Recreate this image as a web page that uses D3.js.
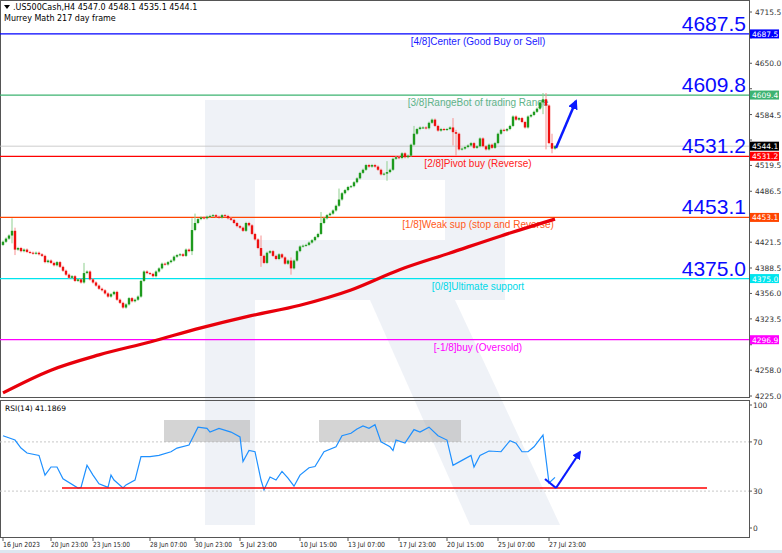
<!DOCTYPE html>
<html><head><meta charset="utf-8">
<script src="https://cdn.jsdelivr.net/npm/d3@7"></script>
<style>body{margin:0;background:#fff}svg{display:block;font-family:Tahoma,"DejaVu Sans",sans-serif}</style>
</head><body><svg id="c" width="782" height="553"></svg>
<script>
// ---- data ----
const closes=[4422,4426,4430,4436,4412,4414,4410,4412,4409,4408,4407,4408,4406,4404,4396,4398,4395,4392,4396,4390,4385,4380,4376,4378,4372,4374,4370,4382,4384,4374,4370,4366,4362,4360,4356,4352,4355,4358,4348,4344,4338,4342,4350,4346,4348,4352,4372,4384,4382,4381,4378,4384,4388,4394,4393,4396,4398,4403,4405,4406,4404,4412,4410,4437,4446,4451,4453,4452,4454,4455,4456,4454,4453,4456,4455,4452,4450,4446,4442,4440,4436,4446,4443,4432,4425,4414,4404,4395,4408,4410,4404,4400,4406,4402,4394,4398,4388,4398,4410,4416,4417,4418,4421,4424,4428,4432,4446,4452,4456,4458,4462,4468,4476,4484,4488,4492,4493,4498,4503,4510,4514,4520,4518,4520,4518,4514,4508,4509,4511,4514,4528,4530,4529,4535,4530,4532,4546,4560,4566,4568,4568,4567,4574,4578,4570,4564,4566,4565,4566,4568,4562,4560,4540,4541,4543,4545,4548,4542,4544,4554,4544,4540,4546,4542,4548,4560,4565,4564,4566,4570,4582,4578,4580,4575,4568,4582,4584,4588,4592,4600,4604,4596,4548,4541,4544.1];
const firstOpen=4418;
const spikeIdx=[3,4,27,63,64,86,96,106,112,128,137,150,151,180,181,183];
const spikeHigh=[4452,4440,4395,4452,4458,4430,4402,4460,4490,4525,4570,4580,4565,4612,4612,4560];
const spikeLow=[4420,4405,4370,4405,4436,4390,4380,4432,4470,4500,4545,4545,4532,4585,4540,4535];
const maIdx=[0,16,32,49,66,82,99,116,132,149,166,184];
const maVal=[4229,4258,4277.5,4294,4312,4327,4341,4360.5,4386,4407.7,4429.5,4451];
const rsiIdx=[0,4,6,8,12,14,16,18,20,25,26,28,30,32,35,36,37,40,41,44,46,49,52,56,58,62,65,68,69,72,76,79,80,82,84,86,87,89,91,93,95,97,99,102,104,107,111,113,116,118,120,122,124,126,129,130,131,134,137,139,142,145,148,150,153,156,157,159,162,166,169,171,173,175,177,180,182,184];
const rsiVal=[75,71.5,65,61,59,43,49.6,49.6,40,32.5,33,51,43,36,33,43,39,32.5,35,39,58,58,59,62,65,67.5,82,81,78,81,78,74,54,63,62,39,31,41.5,39,46,40.6,34,43,49,50,62,66,75,77,80.5,83,81,84,70,66,63,71.5,69,80,78,82,75,71.5,51,55,59,49.6,59,62.6,62,71,69,62,62,66,75.6,36.6,41.19];
const priceTicks=[4715.5,4682.5,4650.0,4617.5,4584.5,4552.0,4519.5,4486.5,4453.5,4421.5,4388.5,4356.0,4323.5,4290.5,4258.0,4225.0];
const dateIdx=[0,16,30,49,64,79,99,115,132,148,165,182];
const dateLabels=["16 Jun 2023","20 Jun 23:00","23 Jun 15:00","28 Jun 07:00","30 Jun 23:00","5 Jul 23:00","10 Jul 15:00","13 Jul 07:00","17 Jul 23:00","20 Jul 15:00","25 Jul 07:00","27 Jul 23:00"];
const levels=[4687.5,4609.4,4531.2,4453.1,4375.0,4296.9];
const levelBig=["4687.5","4609.8","4531.2","4453.1","4375.0",null];
const levelText=["[4/8]Center (Good Buy or Sell)","[3/8]RangeBot of trading Range","[2/8]Pivot buy (Reverse)","[1/8]Weak sup (stop and Reverse)","[0/8]Ultimate support","[-1/8]buy (Oversold)"];
const levelColor=["#0000ff","#3cb371","#ff0000","#ff4500","#00e5ee","#ff00ff"];
const textColor=["#1a1aff","#5fb389","#ff2020","#ff5a1a","#00d8e8","#ff00ff"];
const rsiLevels=[70,30];

// ---- chart ----
const svg=d3.select("#c");
const W=749;
const x=d3.scaleLinear().domain([0,184]).range([3,555]);
const y=d3.scaleLinear().domain([4225,4715.5]).range([396,12]);
const yr=d3.scaleLinear().domain([0,100]).range([528,405]);

// watermark
svg.append("path").attr("fill","#e8edf4").attr("opacity",0.7).attr("fill-rule","evenodd")
 .attr("d","M205,100 L505,100 L505,300 L455,300 L560,525 L470,525 L370,300 L255,300 L255,525 L205,525 Z M255,180 L445,180 L445,240 L255,240 Z");

// frames
svg.append("rect").attr("x",0.5).attr("y",0.5).attr("width",W).attr("height",397).attr("fill","none").attr("stroke","#555");
svg.append("rect").attr("x",0.5).attr("y",400.5).attr("width",W).attr("height",137).attr("fill","none").attr("stroke","#555");

// current price line
svg.append("line").attr("x1",0).attr("x2",W).attr("y1",y(4544.1)).attr("y2",y(4544.1)).attr("stroke","#c0c0c0").attr("stroke-width",0.8);

// levels
levels.forEach((v,i)=>{
  svg.append("line").attr("x1",0).attr("x2",W).attr("y1",y(v)).attr("y2",y(v)).attr("stroke",levelColor[i]).attr("stroke-width",1.3);
  if(levelBig[i]) svg.append("text").attr("x",746).attr("y",y(v)-3).attr("text-anchor","end").attr("font-size",21).attr("font-family","Liberation Sans, Arial").attr("fill","#0a0aff").text(levelBig[i]);
  svg.append("text").attr("x",478).attr("y",y(v)+11).attr("text-anchor","middle").attr("font-size",10).attr("font-family","Liberation Sans, Arial").attr("fill",textColor[i]).text(levelText[i]);
});

// MA
svg.append("path").datum(maIdx).attr("fill","none").attr("stroke","#e8000b").attr("stroke-width",3.2)
 .attr("d",d3.line().x(d=>x(d)).y((d,i)=>y(maVal[i])).curve(d3.curveMonotoneX));

// candles
const bars=closes.map((c,i)=>{const o=i?closes[i-1]:firstOpen;let h=Math.max(o,c)+1.5,l=Math.min(o,c)-1.5;const k=spikeIdx.indexOf(i);if(k>=0){h=Math.max(h,spikeHigh[k]);l=Math.min(l,spikeLow[k]);}return {i,o,c,h,l};});
const g=svg.append("g");
bars.forEach(b=>{const col=b.c>=b.o?"#1e9a1e":"#ee1111";const wc=b.c>=b.o?"#8fcf8f":"#f79090";
  g.append("line").attr("x1",x(b.i)).attr("x2",x(b.i)).attr("y1",y(b.h)).attr("y2",y(b.l)).attr("stroke",wc).attr("stroke-width",1);
  const t=y(Math.max(b.o,b.c)),bt=y(Math.min(b.o,b.c));
  g.append("rect").attr("x",x(b.i)-1.2).attr("y",t).attr("width",2.4).attr("height",Math.max(1,bt-t)).attr("fill",col);
});

// price arrow
svg.append("defs").html('<marker id="ah" viewBox="0 0 10 10" refX="8" refY="5" markerWidth="4" markerHeight="4" orient="auto"><path d="M0,0 L10,5 L0,10 Z" fill="#0a1aff"/></marker>');
svg.append("line").attr("x1",556).attr("y1",148).attr("x2",576).attr("y2",101).attr("stroke","#0a1aff").attr("stroke-width",2.5).attr("marker-end","url(#ah)");

// right axis
const tags=[[4687.5,"#0000ff","#fff"],[4609.4,"#3cb371","#fff"],[4544.1,"#000","#fff"],[4531.2,"#ff0000","#fff"],[4453.1,"#ff4500","#fff"],[4375.0,"#00e5ee","#fff"],[4296.9,"#ff00ff","#fff"]];
priceTicks.forEach(v=>{svg.append("line").attr("x1",W).attr("x2",W+3).attr("y1",y(v)).attr("y2",y(v)).attr("stroke","#555");
 if(tags.some(t=>Math.abs(y(t[0])-y(v))<8)) return;
 svg.append("text").attr("x",755).attr("y",y(v)+3).attr("font-size",7.5).attr("fill","#333").text(v.toFixed(1));});
tags.forEach(t=>{svg.append("rect").attr("x",750).attr("y",y(t[0])-4.5).attr("width",29).attr("height",9).attr("fill",t[1]);
 svg.append("text").attr("x",752).attr("y",y(t[0])+3).attr("font-size",7.5).attr("fill",t[2]).text(t[0].toFixed(1));});

// header
svg.append("path").attr("d","M4,5 L10,5 L7,9 Z").attr("fill","#000");
svg.append("text").attr("x",13).attr("y",10).attr("font-size",8).attr("fill","#000").text(".US500Cash,H4  4547.0 4548.1 4535.1 4544.1");
svg.append("text").attr("x",4).attr("y",21).attr("font-size",8).attr("fill","#000").text("Murrey Math 217 day frame");

// RSI
rsiLevels.forEach(v=>svg.append("line").attr("x1",0).attr("x2",W).attr("y1",yr(v)).attr("y2",yr(v)).attr("stroke","#c8c8c8").attr("stroke-dasharray","2,2"));
svg.append("rect").attr("x",164).attr("y",420).attr("width",86).attr("height",22).attr("fill","#b0b0b0").attr("opacity",0.55);
svg.append("rect").attr("x",319).attr("y",420).attr("width",142).attr("height",22).attr("fill","#b0b0b0").attr("opacity",0.55);
svg.append("path").datum(rsiIdx).attr("fill","none").attr("stroke","#1e90ff").attr("stroke-width",1.2)
 .attr("d",d3.line().x(d=>x(d)).y((d,i)=>yr(rsiVal[i])));
svg.append("line").attr("x1",62).attr("x2",707).attr("y1",488).attr("y2",488).attr("stroke","#ff0000").attr("stroke-width",1.3);
svg.append("path").attr("d","M545,479 L556,488").attr("stroke","#0a1aff").attr("stroke-width",2.2).attr("fill","none");
svg.append("line").attr("x1",556).attr("y1",488).attr("x2",580).attr("y2",452).attr("stroke","#0a1aff").attr("stroke-width",2.2).attr("marker-end","url(#ah)");
svg.append("text").attr("x",5).attr("y",411).attr("font-size",7.5).attr("fill","#000").text("RSI(14) 41.1869");
[[100,"100"],[70,"70"],[30,"30"],[0,"0"]].forEach(t=>{svg.append("line").attr("x1",W).attr("x2",W+3).attr("y1",yr(t[0])).attr("y2",yr(t[0])).attr("stroke","#555");
 svg.append("text").attr("x",753).attr("y",yr(t[0])+3).attr("font-size",7.5).attr("fill","#333").text(t[1]);});

// date axis
dateIdx.forEach((d,i)=>{svg.append("line").attr("x1",x(d)).attr("x2",x(d)).attr("y1",537).attr("y2",541).attr("stroke","#555");
 svg.append("text").attr("x",x(d)).attr("y",547).attr("font-size",7).attr("textLength",37).attr("lengthAdjust","spacingAndGlyphs").attr("fill","#222").text(dateLabels[i]);});
svg.append("rect").attr("x",0).attr("y",550).attr("width",782).attr("height",3).attr("fill","#dde6f0");
</script></body></html>
